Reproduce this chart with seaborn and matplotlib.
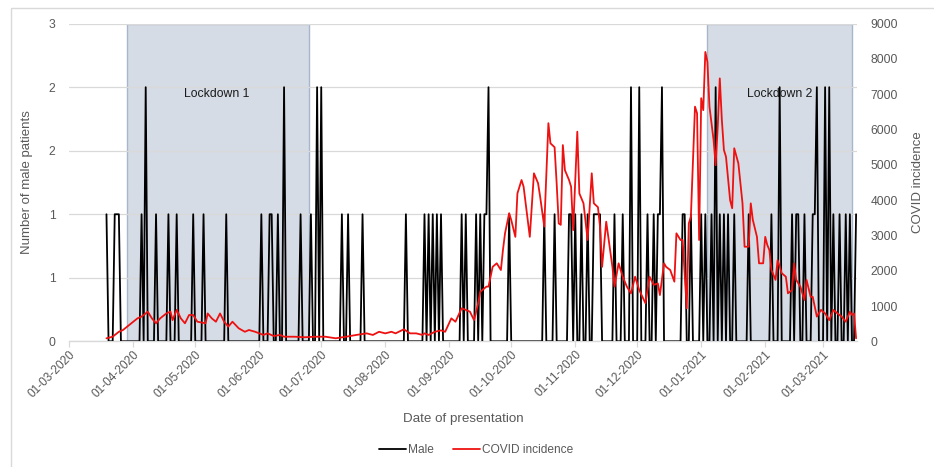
import math
import numpy as np
import pandas as pd
import matplotlib
matplotlib.use("Agg")
import matplotlib.pyplot as plt
import matplotlib.dates as mdates
from matplotlib.ticker import FuncFormatter, FixedLocator
from matplotlib.patches import Rectangle
from matplotlib.lines import Line2D
import seaborn as sns

# ---------------- data (days counted from base_date) ----------------
base_date = "2020-03-01"
series_first_day = 18
series_last_day = 381

# male patients: days with a non-zero count (all other days are 0)
male_days = [18, 22, 23, 24, 35, 37, 42, 48, 52, 60, 65, 76, 93, 97, 98, 101, 104,
             112, 117, 120, 122, 132, 135, 142, 163, 172, 174, 176, 178, 180, 190,
             192, 197, 199, 201, 202, 203, 213, 230, 235, 242, 243, 245, 248, 251,
             254, 255, 256, 257, 264, 268, 272, 276, 280, 283, 285, 286, 287, 297,
             298, 301, 306, 308, 311, 313, 315, 317, 319, 322, 329, 340, 344, 350,
             352, 353, 356, 360, 361, 362, 366, 368, 370, 373, 376, 378, 381]
male_counts = [1, 1, 1, 1, 1, 2, 1, 1, 1, 1, 1, 1, 1, 1, 1, 1, 2,
               1, 1, 2, 2, 1, 1, 1, 1, 1, 1, 1, 1, 1, 1,
               1, 1, 1, 1, 1, 2, 1, 1, 1, 1, 1, 1, 1, 1,
               1, 1, 1, 1, 1, 1, 2, 2, 1, 1, 1, 1, 2, 1,
               1, 1, 1, 1, 1, 2, 1, 1, 1, 1, 1, 1, 2, 1,
               1, 1, 1, 1, 1, 2, 2, 2, 1, 1, 1, 1, 1]

covid_days = [18, 21, 24, 26, 29, 31, 33, 35, 37, 38, 40, 42, 44, 47, 49, 50, 52, 54,
              56, 58, 60, 62, 66, 67, 69, 71, 73, 75, 77, 79, 82, 85, 87, 90, 92, 94,
              96, 99, 102, 104, 109, 114, 119, 124, 129, 134, 139, 144, 147, 150, 153,
              156, 158, 162, 165, 168, 171, 172, 174, 177, 180, 182, 185, 187, 190,
              192, 194, 196, 198, 199, 202, 203, 205, 207, 209, 210, 211, 213, 214,
              216, 217, 219, 220, 223, 225, 227, 228, 230, 232, 233, 235, 236, 237,
              238, 239, 240, 242, 243, 244, 246, 247, 249, 251, 253, 254, 256, 257,
              258, 260, 263, 264, 266, 268, 270, 272, 274, 276, 279, 281, 283, 285,
              286, 288, 289, 291, 293, 294, 296, 297, 299, 300, 301, 303, 304, 305,
              306, 307, 308, 309, 310, 312, 313, 314, 315, 316, 317, 318, 320, 321,
              322, 324, 326, 327, 329, 330, 331, 333, 334, 336, 337, 338, 339, 340,
              342, 343, 345, 347, 348, 350, 351, 352, 354, 356, 357, 359, 360, 362,
              364, 366, 368, 370, 372, 374, 376, 378, 379, 380, 381]
covid_values = [85, 130, 270, 320, 460, 555, 650, 700, 790, 840, 650, 510, 650, 790, 840, 600, 890, 650,
                510, 745, 745, 555, 510, 790, 650, 555, 790, 555, 415, 555, 370, 270, 320, 270, 225, 180,
                225, 150, 180, 130, 130, 115, 130, 130, 85, 130, 180, 225, 180, 270, 225,
                270, 225, 340, 225, 225, 180, 225, 180, 270, 310, 270, 650, 555, 935,
                890, 840, 600, 1080, 1400, 1550, 1550, 2110, 2210, 2020, 2590, 3060, 3630, 3440,
                2960, 4190, 4570, 4380, 2960, 4760, 4480, 4100, 3250, 6180, 5610, 5500, 4480, 3340,
                3300, 5560, 4850, 4570, 4380, 3150, 5940, 4190, 3910, 2870, 4760, 3910, 3800, 3250,
                2110, 3390, 2110, 1550, 2210, 1830, 1550, 1360, 1830, 1450, 1080, 1830, 1600, 1640,
                1310, 2210, 2110, 2020, 1690, 3060, 2870, 2870, 935, 3340, 3530, 6650, 6460, 2870,
                6890, 6550, 8200, 7920, 6650, 5700, 4990, 6080, 7450, 6270, 5420, 5230, 4000, 3770,
                5470, 5040, 3910, 2680, 2680, 3910, 3440, 2960, 2210, 2210, 2960, 2730, 2590, 2020,
                1740, 2300, 1930, 1830, 1360, 1450, 2210, 1740, 1550, 1170, 1740, 1260, 1260, 700,
                890, 790, 600, 890, 790, 700, 555, 840, 745, 790, 85]

lockdowns = ["Lockdown 1", "Lockdown 2"]
lockdown_start = ["2020-03-29", "2021-01-04"]
lockdown_end = ["2020-06-25", "2021-03-15"]
lockdown_label_day = [71.5, 344.2]

month_ticks = pd.date_range("2020-03-01", "2021-03-01", freq="MS")

# ---------------- build frames ----------------
base = pd.Timestamp(base_date)
male_full = pd.Series(0, index=range(series_first_day, series_last_day + 1))
male_full.loc[male_days] = male_counts
df_male = pd.DataFrame({"date": base + pd.to_timedelta(male_full.index, unit="D"),
                        "count": male_full.values})
df_covid = pd.DataFrame({"date": base + pd.to_timedelta(covid_days, unit="D"),
                         "incidence": covid_values})

# ---------------- style ----------------
sns.set_theme(style="white")
plt.rcParams["font.family"] = ["Liberation Sans", "DejaVu Sans"]
GRAY_TXT = "#595959"
GRID = "#d9d9d9"

fig = plt.figure(figsize=(9.34, 4.67), dpi=100)
ax = fig.add_axes([69.3 / 934, 1 - 341.3 / 467, (856.7 - 69.3) / 934, (341.3 - 23.7) / 467])

for s, e in zip(lockdown_start, lockdown_end):
    ax.axvspan(pd.Timestamp(s), pd.Timestamp(e), ymin=0, ymax=1, facecolor="#d6dce5",
               edgecolor="#a7b6cb", lw=1.0, zorder=0)

sns.lineplot(data=df_male, x="date", y="count", ax=ax, color="black", lw=1.3,
             estimator=None, legend=False, zorder=3)

ax.set_ylim(0, 2.5)
ax.yaxis.set_major_locator(FixedLocator(np.arange(0, 2.51, 0.5)))
ax.yaxis.set_major_formatter(FuncFormatter(lambda v, p: f"{int(math.floor(v + 0.5 + 1e-9))}"))
ax.grid(axis="y", color=GRID, lw=0.9)
ax.grid(axis="x", visible=False)

ax2 = ax.twinx()
sns.lineplot(data=df_covid, x="date", y="incidence", ax=ax2, color="#ee1111", lw=1.3,
             estimator=None, legend=False)
ax2.set_ylim(0, 9000)
ax2.yaxis.set_major_locator(FixedLocator(np.arange(0, 9001, 1000)))
ax2.grid(False)

x0 = base
x1 = base + pd.Timedelta(days=381.3)
ax.set_xlim(x0, x1)
ax.xaxis.set_major_locator(FixedLocator(mdates.date2num(month_ticks)))
ax.xaxis.set_major_formatter(mdates.DateFormatter("%d-%m-%Y"))

for a in (ax, ax2):
    for sp in ("left", "right", "top"):
        a.spines[sp].set_visible(False)
    a.spines["bottom"].set_visible(a is ax)
ax.spines["bottom"].set_color(GRID)
ax.spines["bottom"].set_linewidth(1.0)

ax.tick_params(axis="x", which="major", bottom=True, length=4, width=0.9, color=GRID,
               labelsize=8.6, labelcolor=GRAY_TXT, pad=1)
for lbl in ax.get_xticklabels():
    lbl.set_rotation(45)
    lbl.set_ha("right")
    lbl.set_rotation_mode("anchor")
ax.tick_params(axis="y", length=0, labelsize=8.7, labelcolor=GRAY_TXT, pad=10)
ax2.tick_params(axis="y", length=0, labelsize=8.7, labelcolor=GRAY_TXT, pad=10)

ax.set_xlabel("Date of presentation", fontsize=9.6, color=GRAY_TXT)
ax.xaxis.set_label_coords(0.5, -0.226)
ax.set_ylabel("Number of male patients", fontsize=9.5, color=GRAY_TXT)
ax.yaxis.set_label_coords(-0.046, 0.5)
ax2.set_ylabel("COVID incidence", fontsize=9.5, color=GRAY_TXT, rotation=90)
ax2.yaxis.set_label_coords(1.07, 0.5)

for name, day in zip(lockdowns, lockdown_label_day):
    ax.text(base + pd.Timedelta(days=day), 1.947, name, ha="center", va="center",
            fontsize=8.8, color="#1a1a1a", zorder=5)

handles = [Line2D([], [], color="black", lw=1.3), Line2D([], [], color="#ee1111", lw=1.3)]
leg = fig.legend(handles, ["Male", "COVID incidence"], loc="center",
                 bbox_to_anchor=(476 / 934, 1 - 450 / 467), ncol=2, frameon=False,
                 fontsize=8.6, handlelength=2.3, handletextpad=0.15, columnspacing=1.6)
for t in leg.get_texts():
    t.set_color(GRAY_TXT)

fig.add_artist(Rectangle((11 / 934, -0.2), 1.2, 1.2 - 8 / 467, transform=fig.transFigure,
                         fill=False, edgecolor=GRID, lw=1.0))

fig.savefig("out.png", dpi=100)
